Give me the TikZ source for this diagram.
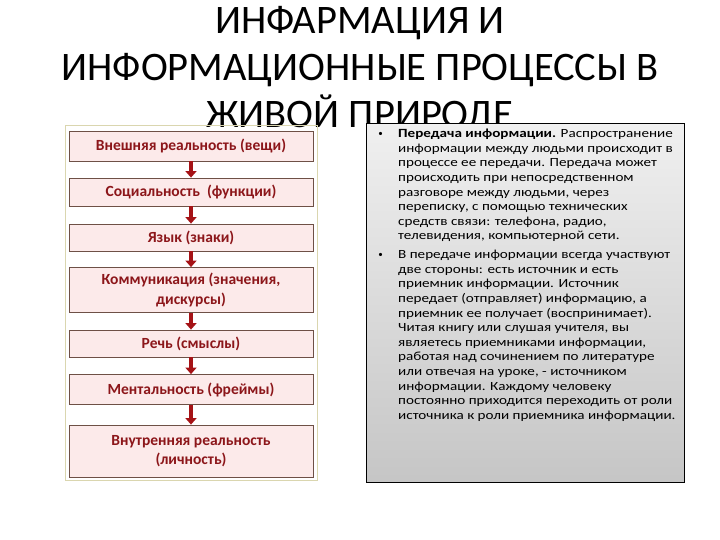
\documentclass[tikz,border=0pt]{standalone}
\usepackage{fontspec}
\setmainfont{Carlito}
\newfontfamily\widefont[FakeStretch=1.21]{Carlito}
\usepackage{xcolor}
\usetikzlibrary{arrows.meta}

\definecolor{boxfill}{RGB}{252,234,234}
\definecolor{boxline}{RGB}{110,80,70}
\definecolor{boxtext}{RGB}{140,22,26}
\definecolor{arrowred}{RGB}{165,18,22}
\definecolor{framecol}{RGB}{218,214,175}

\tikzset{
  stage/.style={draw=boxline, fill=boxfill, text=boxtext, line width=0.8pt,
    minimum width=244pt, align=center, inner sep=0pt,
    font=\fontsize{15.5}{19.5}\selectfont\bfseries},
  flow/.style={arrowred, line width=3.8pt, -{Triangle[width=11pt,length=6.5pt]}},
  panel/.style={anchor=north west, align=left, inner sep=0pt,
    font=\widefont\fontsize{12.5}{14.6}\selectfont}
}

\begin{document}
\begin{tikzpicture}[x=1pt, y=-1pt]
    \useasboundingbox (0,0) rectangle (720,540);

    % Title
    \node[align=center, anchor=north, font=\fontsize{40.5}{47}\selectfont] (title) at (360,3)
        {ИНФАРМАЦИЯ И\\ИНФОРМАЦИОННЫЕ ПРОЦЕССЫ В\\ЖИВОЙ ПРИРОДЕ};

    % Left chain of levels
    \draw[framecol, line width=1pt] (65,126) rectangle (317,480);
    \node[stage, minimum height=30pt] (ext)    at (191,146)   {Внешняя реальность (вещи)};
    \node[stage, minimum height=28pt] (soc)    at (191,192)   {Социальность~ (функции)};
    \node[stage, minimum height=27pt] (lang)   at (191,237.5) {Язык (знаки)};
    \node[stage, minimum height=45pt] (comm)   at (191,290)   {Коммуникация (значения,\\дискурсы)};
    \node[stage, minimum height=27pt] (speech) at (191,343.5) {Речь (смыслы)};
    \node[stage, minimum height=30pt] (ment)   at (191,389.5) {Ментальность (фреймы)};
    \node[stage, minimum height=52pt] (inner)  at (191,451)   {Внутренняя реальность\\(личность)};
    \foreach \a/\b in {ext/soc, soc/lang, lang/comm, comm/speech, speech/ment, ment/inner}
        \draw[flow] (\a.south) -- (\b.north);

    % Right text panel
    \shade[top color=gray!12, bottom color=gray!45] (366,124) rectangle (684,482);
    \draw[black, line width=1pt] (366,124) rectangle (684,482);
    \node[panel] (para1) at (398,129)
        {\textbf{Передача информации.} Распространение\\
         информации между людьми происходит в\\
         процессе ее передачи. Передача может\\
         происходить при непосредственном\\
         разговоре между людьми, через\\
         переписку, с помощью технических\\
         средств связи: телефона, радио,\\
         телевидения, компьютерной сети.};
    \node[panel] (para2) at (398,250)
        {В передаче информации всегда участвуют\\
         две стороны: есть источник и есть\\
         приемник информации. Источник\\
         передает (отправляет) информацию, а\\
         приемник ее получает (воспринимает).\\
         Читая книгу или слушая учителя, вы\\
         являетесь приемниками информации,\\
         работая над сочинением по литературе\\
         или отвечая на уроке, - источником\\
         информации. Каждому человеку\\
         постоянно приходится переходить от роли\\
         источника к роли приемника информации.};
    \node[anchor=east, inner sep=0pt, font=\fontsize{9}{10}\selectfont] (dot1) at (383,134) {•};
    \node[anchor=east, inner sep=0pt, font=\fontsize{9}{10}\selectfont] (dot2) at (383,255) {•};
\end{tikzpicture}
\end{document}
